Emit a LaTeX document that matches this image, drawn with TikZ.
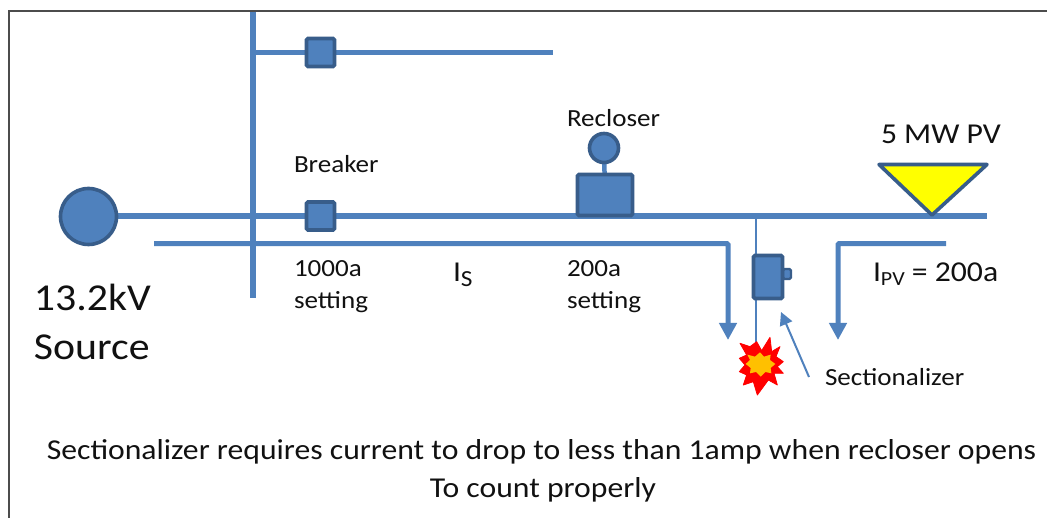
\documentclass[tikz,border=0pt]{standalone}
\usepackage{fontspec}
\setmainfont[FakeStretch=1.1]{Carlito}
\definecolor{bl}{HTML}{4F81BD}
\definecolor{dk}{HTML}{385D8A}
\definecolor{tx}{HTML}{111111}
\definecolor{pvy}{HTML}{FFFF00}
\definecolor{fr}{HTML}{FF0000}
\definecolor{fo}{HTML}{FFC000}
\usetikzlibrary{arrows.meta,backgrounds}
\tikzset{
 wire/.style={draw=bl,line width=5.5pt},
 thinwire/.style={draw=bl,line width=2.6pt},
 flow/.style={draw=bl,line width=5pt,rounded corners=1pt,-{Triangle[length=17pt,width=17pt]}},
 pointer/.style={draw=bl,line width=2pt,-{Triangle[length=13pt,width=13pt]}},
 box/.style={draw=dk,fill=bl,line width=3.6pt,rounded corners=1.5pt,inner sep=0pt,outer sep=0pt},
 disc/.style={circle,draw=dk,fill=bl,line width=3.6pt,inner sep=0pt,outer sep=0pt},
 lbl/.style={inner sep=0pt,outer sep=0pt,text=tx,font=\fontsize{24.6}{28}\selectfont,anchor=base west,align=left},
 lblm/.style={lbl,font=\fontsize{28.8}{34}\selectfont},
 lblb/.style={lbl,font=\fontsize{38}{44}\selectfont},
}
\begin{document}
\begin{tikzpicture}[x=1pt,y=-1pt]
\useasboundingbox (0,0) rectangle (1047,518);
\begin{scope}[on background layer]
\fill[white] (0,0) rectangle (1047,518);
\end{scope}
\draw[draw=black!70,line width=1.3pt] (9,518) -- (9,11) -- (1047,11);
% equipment
\node[box,minimum width=28pt,minimum height=28pt] (b1) at (320.5,52.5) {};
\node[disc,minimum size=56pt] (src) at (88.5,216.5) {};
\node[box,minimum width=28pt,minimum height=28pt] (b2) at (320.5,216) {};
\node[box,minimum width=55pt,minimum height=41pt] (rc) at (605,195) {};
\node[disc,minimum size=29pt] (rc2) at (604,148) {};
\node[box,minimum width=8pt,minimum height=10pt,line width=2.4pt] (sec2) at (787,274) {};
\node[box,minimum width=29pt,minimum height=43pt] (sec) at (768,277) {};
% connector end points
\coordinate (vt) at (253,11); \coordinate (vb) at (253,298);
\coordinate (top) at (253,52.5);
\coordinate (hte) at (553,52.5);
\coordinate (bus) at (987,216);
\coordinate (tap) at (756,216);
\coordinate (fault) at (756,345);
\begin{scope}[on background layer]
\draw[wire] (vt) -- (vb);
\draw[wire] (top) -- (hte);
\draw[wire] (src.center |- bus) -- (bus);
\draw[wire,line width=4.5pt] (rc2) -- (rc);
\draw[thinwire] (tap) -- (fault);
\end{scope}
% fault star
\begin{scope}[shift={(700,230)},x=0.3333pt,y=-0.3333pt]
\path[draw=fr,fill=fr,line width=0.8pt,line join=round] (120,340) -- (150,350) -- (170,335) -- (185,362) -- (210,322) -- (215,365) -- (240,350) -- (228,380) -- (250,395) -- (232,410) -- (250,430) -- (222,430) -- (232,465) -- (205,450) -- (172,495) -- (160,455) -- (130,465) -- (140,435) -- (118,425) -- (135,405) -- (118,385) -- (140,375) -- cycle;
\path[fill=fo] (142,374) -- (165,380) -- (180,367) -- (192,380) -- (212,374) -- (210,390) -- (226,402) -- (212,414) -- (214,430) -- (196,426) -- (182,440) -- (168,426) -- (150,430) -- (152,414) -- (137,402) -- (150,390) -- cycle;
\end{scope}
% PV
\path[draw=dk,fill=pvy,line width=3.6pt,line join=round] (879,164.5) -- (987,164.5) -- (932,215) -- cycle;
% current arrows
\coordinate (f1a) at (154,243.7); \coordinate (f1b) at (728,243.7); \coordinate (f1c) at (728,340);
\coordinate (f2a) at (946,243.7); \coordinate (f2b) at (838,243.7); \coordinate (f2c) at (838,340);
\draw[flow] (f1a) -- (f1b) -- (f1c);
\draw[flow] (f2a) -- (f2b) -- (f2c);
\coordinate (sa) at (809,377); \coordinate (sb) at (781,312);
\draw[pointer] (sa) -- (sb);
% labels
\node[lbl] (tbrk) at (294,173) {Breaker};
\node[lbl] (trec) at (567,127) {Recloser};
\node[lblm] (tpv) at (881,144) {5 MW PV};
\node[lbl] (t1000) at (294,277) {1000a};
\node[lbl] (tset) at (294,309) {setting};
\node[lbl] (t200) at (567,277) {200a};
\node[lbl] (tset2) at (567,309) {setting};
\node[lblm] (tis) at (453,282) {I\raisebox{-5pt}{\fontsize{23}{24}\selectfont S}};
\node[lblm] (tipv) at (873,282) {I\raisebox{-4pt}{\fontsize{20}{22}\selectfont PV} = 200a};
\node[lblb] (t13) at (34,311) {13.2kV};
\node[lblb] (tsrc) at (34,360) {Source};
\node[lbl] (tsec) at (825,386) {Sectionalizer};
\node[lblm,anchor=base] (tm1) at (541.5,459) {Sectionalizer requires current to drop to less than 1amp when recloser opens};
\node[lblm,anchor=base] (tm2) at (543,497) {To count properly};
\end{tikzpicture}
\end{document}
